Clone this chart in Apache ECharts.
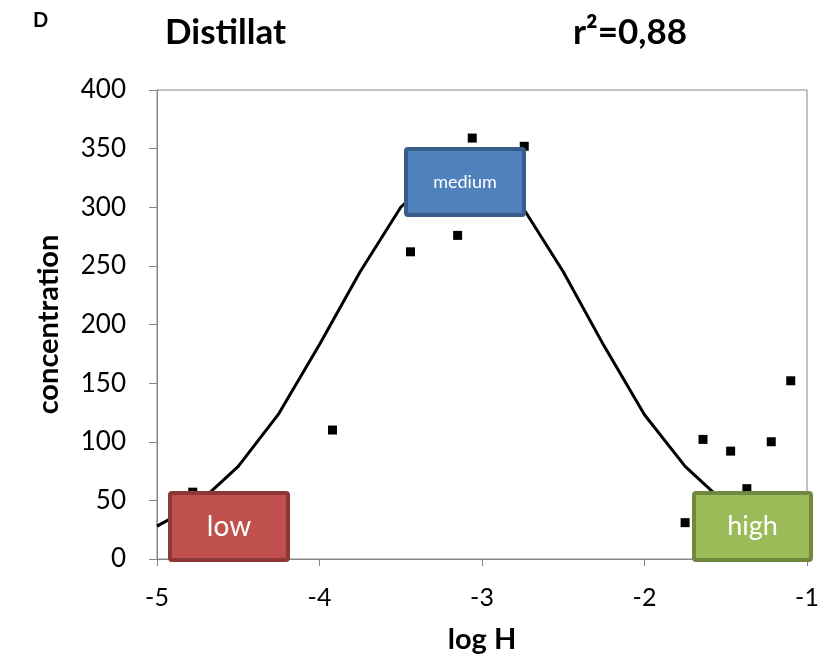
<!DOCTYPE html>
<html>
<head>
<meta charset="utf-8">
<script src="https://cdn.jsdelivr.net/npm/echarts@6/dist/echarts.min.js"></script>
<style>
  html, body { margin: 0; padding: 0; background: #fff; }
  #chart { width: 827px; height: 666px; }
</style>
</head>
<body>
<div id="chart"></div>
<script>
// Measured samples (log H vs concentration)
const sampleLogH = [-4.78, -3.92, -3.44, -3.15, -3.06, -2.74, -1.75, -1.64, -1.47, -1.37, -1.22, -1.10];
const sampleConc = [57, 110, 262, 276, 359, 352, 31, 102, 92, 60, 100, 152];

// Fitted curve, sampled every 0.25 log units
const fitLogH = [-5, -4.75, -4.5, -4.25, -4, -3.75, -3.5, -3.25, -3, -2.75, -2.5, -2.25, -2, -1.75, -1.5, -1.25, -1];
const fitConc = [28, 47, 79, 124, 183, 245, 300, 333, 335, 300, 245, 182, 123, 79, 47, 27, 14];

// Axis ticks
const xTicks = [-5, -4, -3, -2, -1];
const yTicks = [0, 50, 100, 150, 200, 250, 300, 350, 400];

const FONT = 'Lato, "Open Sans", sans-serif';
const AXIS_GRAY = '#868686';

const chart = echarts.init(document.getElementById('chart'), null, { renderer: 'canvas' });

// Labelled region boxes drawn over the plot
function regionBox(x, y, w, h, fill, stroke, text, fontSize) {
  return {
    type: 'group',
    left: x, top: y, z: 100,
    children: [
      {
        type: 'rect',
        shape: { x: 0, y: 0, width: w, height: h, r: 2 },
        style: { fill: fill, stroke: stroke, lineWidth: 4 },
        z: 100
      },
      {
        type: 'text',
        x: w / 2, y: h / 2,
        style: {
          text: text, fill: '#fff', font: fontSize + 'px ' + FONT,
          align: 'center', verticalAlign: 'middle'
        },
        z: 101
      }
    ]
  };
}

chart.setOption({
  animation: false,
  backgroundColor: '#fff',
  grid: {
    left: 157, right: 20, top: 90, bottom: 107,
    show: true, borderColor: AXIS_GRAY, borderWidth: 1, backgroundColor: 'transparent'
  },
  title: [
    { text: 'D', left: 28, top: 6, textStyle: { fontFamily: FONT, fontWeight: 'bold', fontSize: 20, color: '#000' } },
    { text: 'Distillat', left: 160, top: 10, textStyle: { fontFamily: FONT, fontWeight: 'bold', fontSize: 35, color: '#000' } },
    { text: 'r²=0,88', left: 568, top: 10, textStyle: { fontFamily: FONT, fontWeight: 'bold', fontSize: 35, color: '#000' } }
  ],
  xAxis: {
    type: 'value',
    min: xTicks[0], max: xTicks[xTicks.length - 1], interval: 1,
    name: 'log H', nameLocation: 'middle', nameGap: 66,
    nameTextStyle: { fontFamily: FONT, fontWeight: 'bold', fontSize: 29, color: '#000' },
    axisLine: { show: true, onZero: false, lineStyle: { color: AXIS_GRAY, width: 1 } },
    axisTick: { show: true, inside: false, length: 7, lineStyle: { color: AXIS_GRAY } },
    axisLabel: { fontFamily: FONT, fontSize: 25, color: '#000', margin: 26 },
    splitLine: { show: false }
  },
  yAxis: {
    type: 'value',
    min: yTicks[0], max: yTicks[yTicks.length - 1], interval: 50,
    name: 'concentration', nameLocation: 'middle', nameGap: 94, nameRotate: 90,
    nameTextStyle: { fontFamily: FONT, fontWeight: 'bold', fontSize: 29, color: '#000' },
    axisLine: { show: true, lineStyle: { color: AXIS_GRAY, width: 1 } },
    axisTick: { show: true, inside: false, length: 8, lineStyle: { color: AXIS_GRAY } },
    axisLabel: { fontFamily: FONT, fontSize: 26, color: '#000', margin: 31 },
    splitLine: { show: false }
  },
  series: [
    {
      type: 'line',
      data: fitLogH.map((x, i) => [x, fitConc[i]]),
      showSymbol: false,
      lineStyle: { color: '#000', width: 3 },
      z: 2
    },
    {
      type: 'scatter',
      data: sampleLogH.map((x, i) => [x, sampleConc[i]]),
      symbol: 'rect',
      symbolSize: 9,
      itemStyle: { color: '#000', opacity: 1 },
      z: 3
    }
  ],
  graphic: [
    regionBox(168, 491, 118, 67, '#C0504D', '#8C3836', 'low', 28),
    regionBox(404, 147, 118, 66, '#4F81BD', '#385D8A', 'medium', 18),
    regionBox(692, 491, 117, 67, '#9BBB59', '#71893F', 'high', 27)
  ]
});
</script>
</body>
</html>
